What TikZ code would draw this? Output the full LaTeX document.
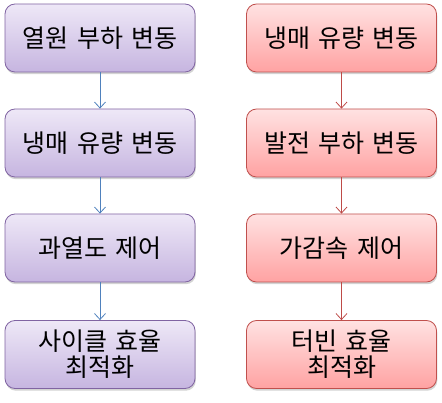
\documentclass[tikz,border=0pt]{standalone}
\usepackage{fontspec}
\setmainfont{Noto Sans CJK KR}[WordSpace=1.5]
\usetikzlibrary{arrows.meta,shadows}
\definecolor{pborder}{HTML}{8064A2}
\definecolor{ptop}{HTML}{EEE8F7}
\definecolor{pbot}{HTML}{C6B5E0}
\definecolor{rborder}{HTML}{C0504D}
\definecolor{rtop}{HTML}{FFE2E2}
\definecolor{rbot}{HTML}{FFA2A2}
\definecolor{barrow}{HTML}{4F81BD}
\definecolor{rarrow}{HTML}{BE4B48}
\tikzset{
  box/.style={rounded corners=10pt, minimum width=190pt, minimum height=68pt,
    inner sep=0pt, align=center, font=\fontsize{25}{26}\selectfont, line width=0.8pt,
    drop shadow={opacity=0.35, shadow xshift=0.8pt, shadow yshift=-2.2pt}},
  pbox/.style={box, draw=pborder, top color=ptop, bottom color=pbot},
  rbox/.style={box, draw=rborder, top color=rtop, bottom color=rbot},
  parr/.style={draw=barrow, line width=0.8pt, -{Straight Barb[length=6pt,width=11pt]}},
  rarr/.style={draw=rarrow, line width=0.8pt, -{Straight Barb[length=6pt,width=11pt]}}
}
\begin{document}
\begin{tikzpicture}[x=1pt,y=-1pt]
\useasboundingbox (0,0) rectangle (442,403);
\node[pbox] (l1) at (100,38) {열원 부하 변동};
\node[pbox] (l2) at (100,143) {냉매 유량 변동};
\node[pbox] (l3) at (100,248) {과열도 제어};
\node[pbox] (l4) at (100,354.5) {사이클 효율\\최적화};
\node[rbox] (r1) at (341.5,38) {냉매 유량 변동};
\node[rbox] (r2) at (341.5,143) {발전 부하 변동};
\node[rbox] (r3) at (341.5,248) {가감속 제어};
\node[rbox] (r4) at (341.5,354.5) {터빈 효율\\최적화};
\draw[parr] (l1) -- (l2);
\draw[parr] (l2) -- (l3);
\draw[parr] (l3) -- (l4);
\draw[rarr] (r1) -- (r2);
\draw[rarr] (r2) -- (r3);
\draw[rarr] (r3) -- (r4);
\end{tikzpicture}
\end{document}
